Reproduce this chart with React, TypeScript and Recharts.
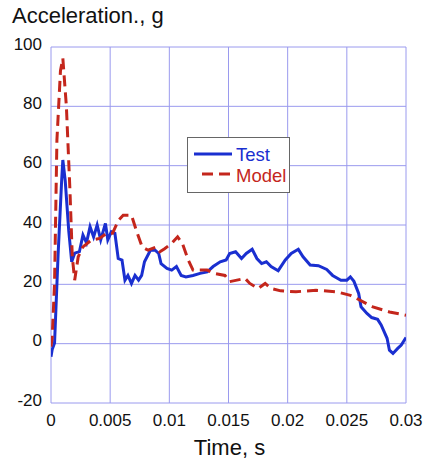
import React from "react";
import { LineChart, Line, XAxis, YAxis, CartesianGrid } from "recharts";

const testT = [0, 0.0001, 0.0003, 0.0006, 0.0009, 0.001, 0.0012, 0.0015, 0.00175, 0.002, 0.0024, 0.0027, 0.003, 0.0033, 0.0036, 0.0039, 0.0042, 0.0046, 0.0048, 0.0051, 0.0054, 0.00568, 0.006, 0.00625, 0.0065, 0.0068, 0.0071, 0.0074, 0.00766, 0.0079, 0.0084, 0.0088, 0.0091, 0.0093, 0.0098, 0.0102, 0.0106, 0.011, 0.0114, 0.012, 0.0126, 0.0132, 0.0137, 0.0143, 0.0148, 0.0151, 0.0156, 0.0161, 0.0165, 0.017, 0.0174, 0.0178, 0.0182, 0.0186, 0.0192, 0.0198, 0.0203, 0.0209, 0.0213, 0.0219, 0.0226, 0.0233, 0.0238, 0.0245, 0.025, 0.0253, 0.0256, 0.026, 0.0262, 0.0267, 0.0271, 0.0276, 0.0279, 0.0284, 0.0286, 0.0289, 0.0293, 0.0296, 0.03];
const testV = [-4.4, -2, 0.2, 30, 55, 61.9, 55, 38, 27.6, 30.5, 31, 36.6, 34, 39.4, 36, 40, 35, 40.5, 35, 37.7, 37.2, 28.7, 28.2, 21.4, 23, 20.3, 23, 21.4, 23, 27.6, 31.5, 31.5, 30.4, 27, 25.4, 24.8, 26, 23, 22.5, 23, 23.7, 24.2, 26, 27.6, 28.2, 30.4, 31, 28.7, 30.4, 31.8, 28.7, 27, 27.6, 26, 24.6, 28.2, 30.4, 31.8, 29.3, 26.5, 26.3, 25, 23, 21.4, 21.4, 22.5, 21, 16.9, 12.4, 10.2, 8.8, 8.2, 6.3, 1.8, -2.2, -3.3, -1.6, -0.5, 2.1];

const modelT = [0, 0.0001, 0.0003, 0.0005, 0.0008, 0.001, 0.0013, 0.0016, 0.0018, 0.002, 0.0023, 0.0027, 0.0034, 0.0041, 0.0047, 0.0052, 0.0057, 0.0061, 0.0068, 0.0072, 0.0077, 0.0082, 0.0089, 0.0092, 0.0096, 0.0102, 0.0107, 0.0111, 0.0116, 0.012, 0.0126, 0.0132, 0.0138, 0.0147, 0.0151, 0.0164, 0.0168, 0.0175, 0.0181, 0.0186, 0.0194, 0.0207, 0.0224, 0.0241, 0.0253, 0.0258, 0.0272, 0.0286, 0.03];
const modelV = [-1, 2, 20.4, 68.6, 92, 96.2, 80, 51.8, 29.3, 21.4, 29.3, 32.6, 34.9, 35.5, 37.2, 37.2, 41.6, 43.3, 43.3, 38.3, 32.6, 31.5, 32.6, 31, 32, 33.8, 36, 33.8, 28.2, 24.8, 24.8, 24.8, 23.7, 23, 20.9, 22, 20.3, 18.6, 20.3, 18.6, 17.8, 17.5, 18, 17.5, 16.3, 15.3, 12.4, 10.7, 9.6];

const xTicks = [0, 0.005, 0.01, 0.015, 0.02, 0.025, 0.03];
const yTicks = [-20, 0, 20, 40, 60, 80, 100];

const testData = testT.map((t, i) => ({ t, v: testV[i] }));
const modelData = modelT.map((t, i) => ({ t, v: modelV[i] }));

const BLUE = "#1a2fd0";
const RED = "#c4261c";
const GRID = "#9a9aee";
const FONT = "'Liberation Sans', Arial, Helvetica, sans-serif";

const YTick = (props: any) => {
  const { x, y, payload } = props;
  return (
    <text x={x} y={y} dy={-3} textAnchor="end" dominantBaseline="central" fontSize={17} fontFamily={FONT} fill="#111">
      {payload.value}
    </text>
  );
};

const XTick = (props: any) => {
  const { x, y, payload } = props;
  return (
    <text x={x} y={y} dy={15} textAnchor="middle" fontSize={17} fontFamily={FONT} fill="#111">
      {String(payload.value)}
    </text>
  );
};

const LegendBox = () => (
  <div
    style={{
      position: "absolute",
      left: 187,
      top: 137,
      width: 101,
      height: 54,
      border: "1.5px solid #666",
      background: "#fff",
      fontFamily: FONT,
      boxSizing: "content-box",
    }}
  >
    <svg width={101} height={54} style={{ position: "absolute", left: 0, top: 0 }}>
      <line x1={6} x2={44} y1={16} y2={16} stroke={BLUE} strokeWidth={3} />
      <text x={48} y={23} fontSize={18.5} fill={BLUE} fontFamily={FONT}>Test</text>
      <line x1={14} x2={44} y1={36} y2={36} stroke={RED} strokeWidth={3} strokeDasharray="11 6" />
      <text x={48} y={44} fontSize={18.5} fill={RED} fontFamily={FONT}>Model</text>
    </svg>
  </div>
);

export default function App() {
  return (
    <div style={{ position: "absolute", left: 0, top: 0, width: 425, height: 463, background: "#fff" }}>
      <LineChart width={425} height={463} margin={{ top: 47, right: 19, left: 0, bottom: 0 }}>
        <CartesianGrid stroke={GRID} strokeWidth={1} />
        <XAxis
          type="number"
          dataKey="t"
          domain={[0, 0.03]}
          ticks={xTicks}
          tick={<XTick />}
          axisLine={false}
          tickLine={false}
          height={60}
          allowDataOverflow
        />
        <YAxis
          type="number"
          domain={[-20, 100]}
          ticks={yTicks}
          tick={<YTick />}
          axisLine={false}
          tickLine={false}
          width={51}
          tickSize={0}
          tickMargin={9}
          allowDataOverflow
        />
        <Line data={testData} dataKey="v" type="linear" stroke={BLUE} strokeWidth={3} dot={false} isAnimationActive={false} />
        <Line data={modelData} dataKey="v" type="linear" stroke={RED} strokeWidth={3} strokeDasharray="11 6" dot={false} isAnimationActive={false} />
      </LineChart>
      <div style={{ position: "absolute", left: 12, top: 3, fontSize: 22, fontFamily: FONT, color: "#111" }}>Acceleration., g</div>
      <div style={{ position: "absolute", left: 0, width: 425, paddingLeft: 34, boxSizing: "border-box", top: 435, fontSize: 22, fontFamily: FONT, color: "#111", textAlign: "center" }}>Time, s</div>
      <LegendBox />
    </div>
  );
}
